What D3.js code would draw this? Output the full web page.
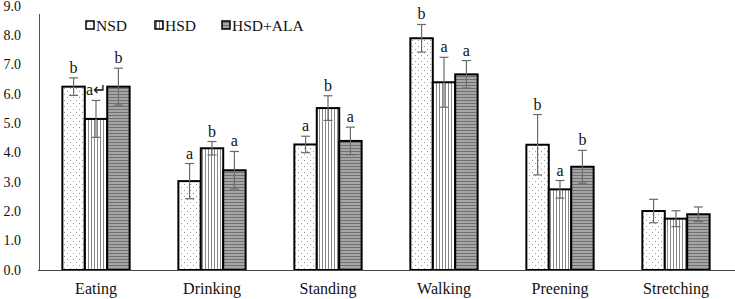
<!DOCTYPE html>
<html>
<head>
<meta charset="utf-8">
<script src="https://cdn.jsdelivr.net/npm/d3@7"></script>
<style>
  body { margin: 0; background: #fff; }
</style>
</head>
<body>
<div id="chart"></div>
<script>
const categories = ['Eating', 'Drinking', 'Standing', 'Walking', 'Preening', 'Stretching']
const groups = ['NSD', 'HSD', 'HSD+ALA']
const nsd = [6.25, 3.03, 4.28, 7.9, 4.27, 2.01]
const hsd = [5.15, 4.15, 5.52, 6.4, 2.75, 1.75]
const ala = [6.25, 3.4, 4.4, 6.67, 3.52, 1.9]
const nsdErr = [0.3, 0.6, 0.28, 0.47, 1.03, 0.4]
const hsdErr = [0.63, 0.23, 0.42, 0.85, 0.3, 0.27]
const alaErr = [0.63, 0.64, 0.47, 0.47, 0.56, 0.25]
const nsdSig = ['b', 'a', 'a', 'b', 'b', '']
const hsdSig = ['a\u21b5', 'b', 'b', 'a', 'a', '']
const alaSig = ['b', 'a', 'a', 'a', 'b', '']
const yTicks = [0, 1, 2, 3, 4, 5, 6, 7, 8, 9]

const W = 735, H = 299
const margin = { top: 6, left: 38, right: 1, bottom: 29 }
const values = [nsd, hsd, ala], errs = [nsdErr, hsdErr, alaErr], sigs = [nsdSig, hsdSig, alaSig]
const serif = 'Liberation Serif'

const svg = d3.select('#chart').append('svg').attr('width', W).attr('height', H)
  .attr('font-family', serif)
const defs = svg.append('defs')

// patterns
let pDot = defs.append('pattern').attr('id', 'p0').attr('patternUnits', 'userSpaceOnUse')
  .attr('width', 6).attr('height', 6)
pDot.append('rect').attr('width', 6).attr('height', 6).attr('fill', '#fff')
pDot.append('rect').attr('x', 1).attr('y', 1).attr('width', 1).attr('height', 1).attr('fill', '#999')
pDot.append('rect').attr('x', 4).attr('y', 4).attr('width', 1).attr('height', 1).attr('fill', '#999')

let pVer = defs.append('pattern').attr('id', 'p1').attr('patternUnits', 'userSpaceOnUse')
  .attr('width', 3).attr('height', 3)
pVer.append('rect').attr('width', 3).attr('height', 3).attr('fill', '#fff')
pVer.append('rect').attr('x', 1).attr('width', 1).attr('height', 3).attr('fill', '#888')

let pHor = defs.append('pattern').attr('id', 'p2').attr('patternUnits', 'userSpaceOnUse')
  .attr('width', 3).attr('height', 3)
pHor.append('rect').attr('width', 3).attr('height', 3).attr('fill', '#a6a6a6')
pHor.append('rect').attr('y', 1).attr('width', 3).attr('height', 1).attr('fill', '#707070')

const x = d3.scaleBand().domain(categories).range([margin.left, W - margin.right]).paddingInner(0.42).paddingOuter(0.21)
const xs = d3.scaleBand().domain(groups).range([0, x.bandwidth()])
const y = d3.scaleLinear().domain([0, 9]).range([H - margin.bottom, margin.top])

// y labels
svg.selectAll('text.ytick').data(yTicks).enter().append('text').classed('ytick', true)
  .attr('x', 21).attr('y', d => y(d) + 4.5).attr('text-anchor', 'end')
  .attr('fill', '#111').style('font-size', '14px').text(d => d.toFixed(1))

// y axis line
svg.append('line').attr('x1', 39.5).attr('x2', 39.5).attr('y1', y(9) + 8).attr('y2', y(0))
  .attr('stroke', '#555').attr('stroke-width', 1)

// bars
let bg = svg.selectAll('g.series').data(groups).enter().append('g').classed('series', true)
bg.each(function (gname, gi) {
  let g = d3.select(this)
  g.selectAll('rect').data(categories).enter().append('rect')
    .attr('x', c => x(c) + xs(gname))
    .attr('y', (c, i) => y(values[gi][i]))
    .attr('width', xs.bandwidth())
    .attr('height', (c, i) => y(0) - y(values[gi][i]))
    .attr('fill', `url(#p${gi})`).attr('stroke', '#000').attr('stroke-width', 2)

  // error bars + letters
  categories.forEach((c, i) => {
    let cx = x(c) + xs(gname) + xs.bandwidth() / 2
    let v = values[gi][i], e = errs[gi][i]
    let eg = g.append('g').attr('stroke', '#6a6a6a').attr('stroke-width', 1.2)
    eg.append('line').attr('x1', cx).attr('x2', cx).attr('y1', y(v + e)).attr('y2', y(v - e))
    eg.append('line').attr('x1', cx - 4.5).attr('x2', cx + 4.5).attr('y1', y(v + e)).attr('y2', y(v + e))
    eg.append('line').attr('x1', cx - 4.5).attr('x2', cx + 4.5).attr('y1', y(v - e)).attr('y2', y(v - e))
    if (sigs[gi][i]) {
      g.append('text').attr('x', cx).attr('y', y(v + e) - 5).attr('fill', '#111')
        .attr('text-anchor', 'middle').style('font-size', '16px').text(sigs[gi][i])
    }
  })
})

// x axis line
svg.append('line').attr('x1', margin.left).attr('x2', W).attr('y1', y(0) + 0.5).attr('y2', y(0) + 0.5)
  .attr('stroke', '#444').attr('stroke-width', 1)

// x labels
svg.selectAll('text.xlab').data(categories).enter().append('text').classed('xlab', true)
  .attr('x', d => x(d) + x.bandwidth() / 2).attr('y', H - 5).attr('fill', '#111')
  .attr('text-anchor', 'middle').style('font-size', '16px').text(d => d)

// legend
const legX = [86, 155, 222]
let leg = svg.selectAll('g.leg').data(groups).enter().append('g').classed('leg', true)
  .attr('transform', (d, i) => `translate(${legX[i]}, 21)`)
leg.append('rect').attr('width', 8).attr('height', 8)
  .attr('fill', (d, i) => `url(#p${i})`).attr('stroke', '#000').attr('stroke-width', 1.5)
leg.append('text').attr('x', 10).attr('y', 9.5).attr('fill', '#111')
  .style('font-size', '15.5px').text(d => d)
</script>
</body>
</html>
